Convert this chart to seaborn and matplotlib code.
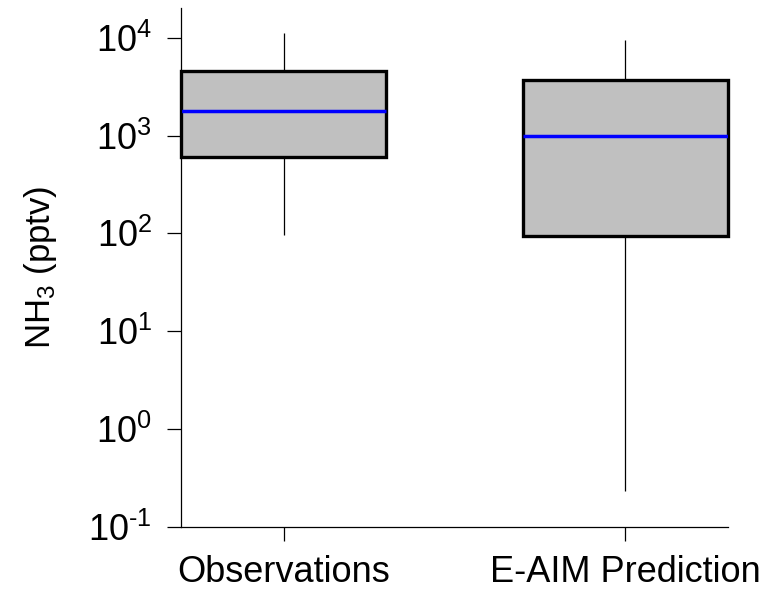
import numpy as np
import pandas as pd
import seaborn as sns
import matplotlib.pyplot as plt

# five-number summaries (whisker low, Q1, median, Q3, whisker high)
categories = ['Observations', 'E-AIM Prediction']
obs_stats = [97, 605, 1790, 4560, 11200]
eaim_stats = [0.233, 95, 1000, 3700, 9500]
ytick_values = [1e-1, 1e0, 1e1, 1e2, 1e3, 1e4]
ytick_labels = [r'$\mathregular{10^{\text{-}1}}$', r'$\mathregular{10^{0}}$', r'$\mathregular{10^{1}}$',
                r'$\mathregular{10^{2}}$', r'$\mathregular{10^{3}}$', r'$\mathregular{10^{4}}$']

df = pd.DataFrame({
    'source': [categories[0]] * len(obs_stats) + [categories[1]] * len(eaim_stats),
    'nh3': obs_stats + eaim_stats,
})

sns.set_style('ticks')
plt.rcParams['font.family'] = ['Liberation Sans', 'DejaVu Sans']
plt.rcParams['mathtext.fontset'] = 'custom'
plt.rcParams['mathtext.rm'] = 'Liberation Sans'
plt.rcParams['mathtext.it'] = 'Liberation Sans'
plt.rcParams['axes.unicode_minus'] = False
plt.rcParams['text.color'] = 'black'
plt.rcParams['axes.labelcolor'] = 'black'
plt.rcParams['xtick.color'] = 'black'
plt.rcParams['ytick.color'] = 'black'

fig = plt.figure(figsize=(7.67, 5.92), dpi=100)
ax = fig.add_axes([0.236, 0.110, 0.713, 0.876])

sns.boxplot(data=df, x='source', y='nh3', order=categories, ax=ax,
            log_scale=True, whis=np.inf, width=0.6, showcaps=False,
            color='#c0c0c0', saturation=1, linecolor='black',
            boxprops=dict(linewidth=2.4, edgecolor='black', clip_on=False),
            whiskerprops=dict(linewidth=0.9, color='black'),
            medianprops=dict(linewidth=2.5, color='blue'))

ax.set_ylim(0.1, 2e4)
ax.set_xlim(-0.3, 1.3)
ax.minorticks_off()
ax.set_yticks(ytick_values)
ax.set_yticklabels(ytick_labels)
ax.set_xlabel('')
ax.set_ylabel(r'NH$_3$ (pptv)', fontsize=25, labelpad=21)
ax.tick_params(axis='both', labelsize=26, length=10, width=0.9, direction='out')
ax.tick_params(axis='y', pad=11)
ax.tick_params(axis='x', pad=10)
for s in ['left', 'bottom']:
    ax.spines[s].set_linewidth(0.9)
    ax.spines[s].set_color('black')
sns.despine(ax=ax)

fig.savefig('out.png', dpi=100)
